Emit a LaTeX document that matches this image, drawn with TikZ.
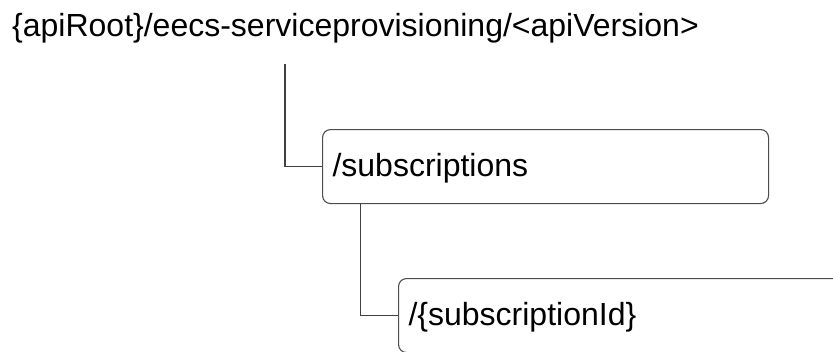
\documentclass[tikz,border=0pt]{standalone}
\usepackage{fontspec}
\setmainfont{Liberation Sans}
\begin{document}
\begin{tikzpicture}[x=1pt,y=-1pt,
  conn/.style={draw=black!75,line width=1.1pt},
  resbox/.style={draw=black!70,line width=1.1pt,rounded corners=8pt,
    anchor=north west,inner xsep=10pt,inner ysep=0pt,
    text width=426pt,align=left,minimum height=74pt,
    text height=28pt,text depth=8pt,font=\fontsize{32}{38}\selectfont},
  titletext/.style={anchor=base west,inner sep=0pt,font=\fontsize{32}{38}\selectfont}]
\useasboundingbox (0,0) rectangle (833,351);
\clip (0,0) rectangle (833,351);
\node[titletext] (root) at (12,36.5) {\{apiRoot\}/eecs-serviceprovisioning/<apiVersion>};
\coordinate (rootout) at (285,64);
\node[resbox] (sub) at (322,129) {/subscriptions};
\node[resbox] (sid) at (398,278) {/\{subscriptionId\}};
\draw[conn] (rootout) |- (sub.west);
\draw[conn] ([xshift=38.5pt]sub.south west) |- (sid.west);
\end{tikzpicture}
\end{document}
